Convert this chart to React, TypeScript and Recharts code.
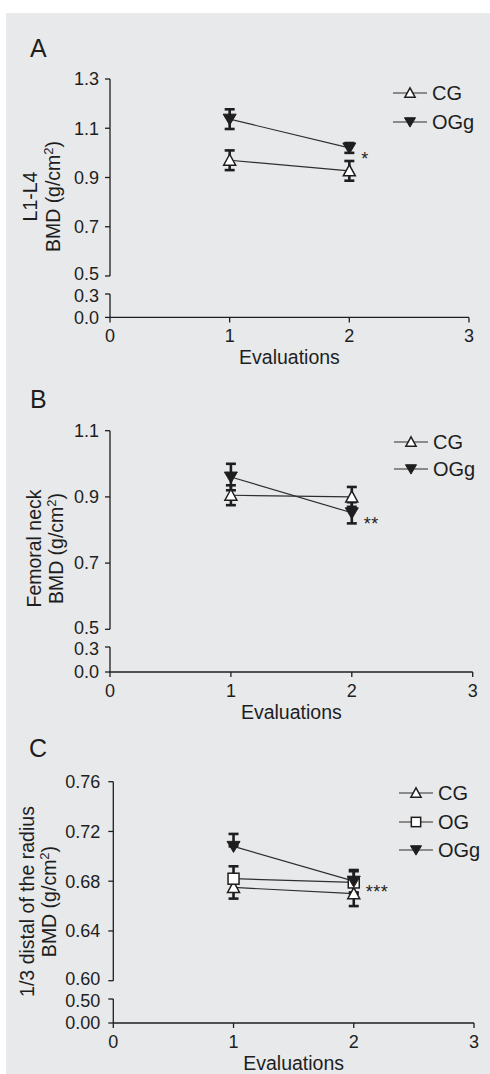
import React from 'react';
import { ComposedChart, Line, XAxis, YAxis, ErrorBar, Legend, LabelList } from 'recharts';

const FONT = '"Liberation Sans", Arial, Helvetica, sans-serif';
const INK = '#1e1e1e';
const LINE = '#2e2e2e';
const BG = '#e8e9eb';

const EVALUATIONS = [1, 2];
const X_TICKS = [0, 1, 2, 3];

// Panel A – L1-L4
const A_CG = [0.97, 0.927];
const A_CG_ERR = [0.04, 0.04];
const A_OGG = [1.137, 1.02];
const A_OGG_ERR = [0.04, 0.02];
const A_SIG = ['', '*'];
const A_TICKS_UP = [0.5, 0.7, 0.9, 1.1, 1.3];
const A_TICKS_LOW = [0, 0.3];

// Panel B – Femoral neck
const B_CG = [0.905, 0.9];
const B_CG_ERR = [0.03, 0.03];
const B_OGG = [0.96, 0.852];
const B_OGG_ERR = [0.04, 0.032];
const B_SIG = ['', '**'];
const B_TICKS_UP = [0.5, 0.7, 0.9, 1.1];
const B_TICKS_LOW = [0, 0.3];

// Panel C – 1/3 distal radius
const C_CG = [0.675, 0.67];
const C_CG_ERR = [0.009, 0.01];
const C_OG = [0.682, 0.679];
const C_OG_ERR = [0.01, 0.009];
const C_OGG = [0.708, 0.68];
const C_OGG_ERR: [number, number][] = [[0, 0.01], [0.009, 0.009]];
const C_SIG = ['', '***'];
const C_TICKS_UP = [0.6, 0.64, 0.68, 0.72, 0.76];
const C_TICKS_LOW = [0, 0.5];

type Kind = 'up' | 'down' | 'square';

function Marker({ kind, cx, cy, s = 1 }: { kind: Kind; cx: number; cy: number; s?: number }) {
  if (kind === 'up')
    return (
      <polygon
        points={`${cx},${cy - 6 * s} ${cx - 6 * s},${cy + 5 * s} ${cx + 6 * s},${cy + 5 * s}`}
        fill="#fff"
        stroke={INK}
        strokeWidth={1.5}
      />
    );
  if (kind === 'down')
    return (
      <polygon
        points={`${cx - 6.5 * s},${cy - 5 * s} ${cx + 6.5 * s},${cy - 5 * s} ${cx},${cy + 6 * s}`}
        fill={INK}
        stroke={INK}
        strokeWidth={1}
      />
    );
  return (
    <rect x={cx - 5.5 * s} y={cy - 5.5 * s} width={11 * s} height={11 * s} fill="#fff" stroke={INK} strokeWidth={1.5} />
  );
}

type Series = { key: string; err: string; name: string; kind: Kind };

type PanelCfg = {
  letter: string;
  letterX: number;
  letterY: number;
  top: number;
  yAxisX: number;
  xRight: number;
  top1: number;
  bot1: number;
  top2: number;
  axisY: number;
  upDomain: [number, number];
  upTicks: number[];
  lowDomain: [number, number];
  lowTicks: number[];
  decimals: number;
  tickMargin: number;
  label1: string;
  base1: number;
  base2: number;
  labelCY: number;
  legendX: number;
  legendY0: number;
  legendStep: number;
  series: Series[];
  rows: any[];
};

const SER_CG: Series = { key: 'cg', err: 'cgErr', name: 'CG', kind: 'up' };
const SER_OG: Series = { key: 'og', err: 'ogErr', name: 'OG', kind: 'square' };
const SER_OGG: Series = { key: 'ogg', err: 'oggErr', name: 'OGg', kind: 'down' };

const rowsA = EVALUATIONS.map((x, i) => ({ x, cg: A_CG[i], cgErr: A_CG_ERR[i], ogg: A_OGG[i], oggErr: A_OGG_ERR[i], sig: A_SIG[i] }));
const rowsB = EVALUATIONS.map((x, i) => ({ x, cg: B_CG[i], cgErr: B_CG_ERR[i], ogg: B_OGG[i], oggErr: B_OGG_ERR[i], sig: B_SIG[i] }));
const rowsC = EVALUATIONS.map((x, i) => ({
  x,
  cg: C_CG[i],
  cgErr: C_CG_ERR[i],
  og: C_OG[i],
  ogErr: C_OG_ERR[i],
  ogg: C_OGG[i],
  oggErr: C_OGG_ERR[i],
  sig: C_SIG[i],
}));

const PANELS: PanelCfg[] = [
  {
    letter: 'A', letterX: 30, letterY: 57, top: 20,
    yAxisX: 110, xRight: 469, top1: 79, bot1: 276, top2: 294.3, axisY: 317.7,
    upDomain: [0.5, 1.3], upTicks: A_TICKS_UP, lowDomain: [0, 0.3], lowTicks: A_TICKS_LOW,
    decimals: 1, tickMargin: 6,
    label1: 'L1-L4', base1: 37.5, base2: 60.5, labelCY: 196.5,
    legendX: 393, legendY0: 93, legendStep: 29,
    series: [SER_CG, SER_OGG], rows: rowsA,
  },
  {
    letter: 'B', letterX: 30, letterY: 408, top: 375,
    yAxisX: 110, xRight: 472.7, top1: 430.7, bot1: 629.3, top2: 647.3, axisY: 672.3,
    upDomain: [0.5, 1.1], upTicks: B_TICKS_UP, lowDomain: [0, 0.3], lowTicks: B_TICKS_LOW,
    decimals: 1, tickMargin: 6,
    label1: 'Femoral neck', base1: 41.5, base2: 63.5, labelCY: 548.5,
    legendX: 394, legendY0: 441.7, legendStep: 27.6,
    series: [SER_CG, SER_OGG], rows: rowsB,
  },
  {
    letter: 'C', letterX: 29, letterY: 757, top: 725,
    yAxisX: 113.3, xRight: 474, top1: 781.7, bot1: 980.7, top2: 999, axisY: 1023,
    upDomain: [0.6, 0.76], upTicks: C_TICKS_UP, lowDomain: [0, 0.5], lowTicks: C_TICKS_LOW,
    decimals: 2, tickMargin: 8,
    label1: '1/3 distal of the radius', base1: 33.5, base2: 56, labelCY: 901.5,
    legendX: 399, legendY0: 793, legendStep: 28.5,
    series: [SER_CG, SER_OGG].length ? [SER_CG, SER_OG, SER_OGG] : [], rows: rowsC,
  },
];

const TICK_FS = 18;
const tickStyle = { fill: INK, fontSize: TICK_FS, fontFamily: FONT };

// y tick renderer; the tick next to the axis break is nudged by `shift` px so labels do not collide
const makeYTick = (fmt: (v: number) => string, edgeValue: number, shift: number) => (t: any) => {
  const v = t.payload?.value;
  const dy = v === edgeValue ? shift : 0;
  return (
    <text x={t.x} y={t.y + dy} dy="0.355em" textAnchor="end" fontSize={TICK_FS} fontFamily={FONT} fill={INK}>
      {fmt(v)}
    </text>
  );
};

function Panel({ p }: { p: PanelCfg }) {
  const W = 490;
  const upH = p.axisY + 60 - p.top;
  const lowTop = p.top2 - 10;
  const lowH = p.axisY - lowTop + 55;
  const fmt = (v: number) => v.toFixed(p.decimals);
  const kindOf: Record<string, Kind> = {};
  p.series.forEach((s) => (kindOf[s.name] = s.kind));
  const cy = p.labelCY - p.top;

  const legendContent = (props: any) => {
    const payload = (props.payload || []) as any[];
    const names = payload.length ? payload.map((e) => String(e.value)) : p.series.map((s) => s.name);
    return (
      <div style={{ fontFamily: FONT, fontSize: 20, color: INK }}>
        {names.map((n) => (
          <div key={n} style={{ display: 'flex', alignItems: 'center', height: p.legendStep }}>
            <svg width={34} height={14} style={{ display: 'block', overflow: 'visible' }}>
              <line x1={0} x2={34} y1={7} y2={7} stroke={LINE} strokeWidth={1.2} />
              <Marker kind={kindOf[n]} cx={17} cy={7} s={0.85} />
            </svg>
            <span style={{ marginLeft: 5, lineHeight: 1 }}>{n}</span>
          </div>
        ))}
      </div>
    );
  };

  return (
    <>
      <div style={{ position: 'absolute', left: 0, top: p.top, width: W, height: upH }}>
        <ComposedChart
          width={W}
          height={upH}
          data={p.rows}
          margin={{ top: p.top1 - p.top, right: W - p.xRight, bottom: upH - (p.bot1 - p.top), left: 0 }}
        >
          <XAxis type="number" dataKey="x" domain={[0, 3]} hide height={0} />
          <YAxis
            type="number"
            domain={p.upDomain}
            ticks={p.upTicks}
            interval={0}
            allowDataOverflow
            width={p.yAxisX}
            tickFormatter={fmt}
            tickSize={5}
            tickMargin={p.tickMargin}
            tick={makeYTick(fmt, p.upTicks[0], -2)}
            axisLine={{ stroke: INK, strokeWidth: 1.3 }}
            tickLine={{ stroke: INK, strokeWidth: 1.3 }}
            label={{
              content: () => (
                <g style={{ fontFamily: FONT, fontSize: 19.5, fill: INK }}>
                  <text x={p.base1} y={cy} textAnchor="middle" transform={`rotate(-90, ${p.base1}, ${cy})`} fill={INK}>
                    {p.label1}
                  </text>
                  <text x={p.base2} y={cy} textAnchor="middle" transform={`rotate(-90, ${p.base2}, ${cy})`} fill={INK}>
                    <tspan>BMD (g/cm</tspan>
                    <tspan dy={-7} fontSize={13}>2</tspan>
                    <tspan dy={7}>)</tspan>
                  </text>
                </g>
              ),
            }}
          />
          <Legend
            layout="vertical"
            align="center"
            verticalAlign="middle"
            content={legendContent}
            wrapperStyle={{ left: p.legendX, top: p.legendY0 - p.legendStep / 2 - p.top, width: 90, height: 'auto' }}
          />
          {p.series.map((s) => (
            <Line
              key={s.key}
              type="linear"
              dataKey={s.key}
              name={s.name}
              stroke={LINE}
              strokeWidth={1.2}
              isAnimationActive={false}
              dot={(d: any) => <Marker key={`${s.key}-${d.index}`} kind={s.kind} cx={d.cx} cy={d.cy} />}
              activeDot={false}
            >
              <ErrorBar dataKey={s.err} direction="y" width={5} stroke={INK} strokeWidth={2.6} isAnimationActive={false} />
              {s.kind === 'down' && (
                <LabelList
                  dataKey="sig"
                  content={(l: any) =>
                    l.value ? (
                      <text x={Number(l.x) + 12} y={Number(l.y) + 17} fontSize={18} fontFamily={FONT} fill={INK} letterSpacing={0.5}>
                        {l.value}
                      </text>
                    ) : null
                  }
                />
              )}
            </Line>
          ))}
          <text x={p.letterX} y={p.letterY - p.top} fontSize={25} fontFamily={FONT} fill={INK}>
            {p.letter}
          </text>
        </ComposedChart>
      </div>
      <div style={{ position: 'absolute', left: 0, top: lowTop, width: W, height: lowH }}>
        <ComposedChart width={W} height={lowH} data={p.rows} margin={{ top: 10, right: W - p.xRight, bottom: 0, left: 0 }}>
          <XAxis
            type="number"
            dataKey="x"
            domain={[0, 3]}
            ticks={X_TICKS}
            interval={0}
            height={55}
            tickSize={5}
            tickMargin={7}
            tick={tickStyle}
            axisLine={{ stroke: INK, strokeWidth: 1.3 }}
            tickLine={{ stroke: INK, strokeWidth: 1.3 }}
            label={{
              content: (lp: any) => {
                const vb = lp.viewBox || {};
                return (
                  <text x={vb.x + vb.width / 2} y={vb.y + 46.5} textAnchor="middle" fontSize={19.5} fontFamily={FONT} fill={INK}>
                    Evaluations
                  </text>
                );
              },
            }}
          />
          <YAxis
            type="number"
            domain={p.lowDomain}
            ticks={p.lowTicks}
            interval={0}
            allowDataOverflow
            width={p.yAxisX}
            tickFormatter={fmt}
            tickSize={5}
            tickMargin={p.tickMargin}
            tick={makeYTick(fmt, p.lowTicks[p.lowTicks.length - 1], 2)}
            axisLine={{ stroke: INK, strokeWidth: 1.3 }}
            tickLine={{ stroke: INK, strokeWidth: 1.3 }}
          />
        </ComposedChart>
      </div>
    </>
  );
}

export default function App() {
  return (
    <div style={{ position: 'absolute', left: 0, top: 0, width: 490, height: 1074, background: '#fff', overflow: 'hidden', fontFamily: FONT }}>
      <div style={{ position: 'absolute', left: 6, top: 13, width: 484, height: 1061, background: BG }} />
      {PANELS.map((p) => (
        <Panel key={p.letter} p={p} />
      ))}
    </div>
  );
}
